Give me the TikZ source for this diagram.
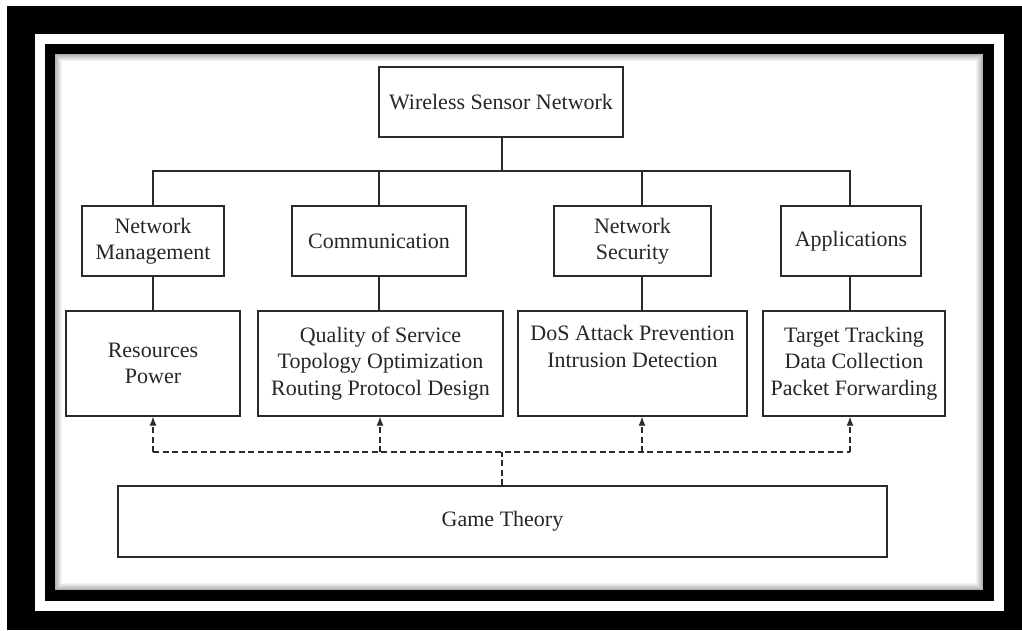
\documentclass[tikz,border=0pt]{standalone}
\usepackage{fontspec}
\setmainfont{Liberation Serif}
\usetikzlibrary{arrows.meta,calc}
\definecolor{ln}{HTML}{2A2A2A}
\definecolor{tx}{HTML}{262626}
\begin{document}
\begin{tikzpicture}[x=1pt,y=-1pt,
  box/.style={draw=ln,line width=1.3pt,fill=white,text=tx,align=center,inner sep=0pt,
    font=\fontsize{22}{26.5}\selectfont},
  conn/.style={draw=ln,line width=1.3pt},
  dconn/.style={draw=ln,line width=1.3pt,dash pattern=on 6pt off 3.5pt},
  arr/.style={dconn,-{Latex[length=9pt,width=7pt]}}]
\useasboundingbox (0,0) rectangle (1022,630);
% frame
\fill[white] (0,0) rectangle (1022,630);
\fill[black] (7,6) rectangle (1022,630);
\fill[white] (35,34) rectangle (1004,611);
\fill[black] (45,44) rectangle (994,601);
\fill[white] (55,54) rectangle (983,590);
\foreach \i in {0,...,6}{
  \pgfmathsetmacro\op{0.30*(7-\i)/7}
  \draw[black,opacity=\op,line width=1pt] (55.5+\i,54.5+\i) rectangle (982.5-\i,589.5-\i);
}
% nodes
\node[box,minimum width=244pt,minimum height=70pt] (wsn) at (501,102) {Wireless Sensor Network};
\node[box,minimum width=142pt,minimum height=70pt] (nm) at (153,241) {Network\\Management};
\node[box,minimum width=174pt,minimum height=70pt] (comm) at (379,241) {Communication};
\node[box,minimum width=157pt,minimum height=70pt] (sec) at (632.5,241) {Network\\Security};
\node[box,minimum width=140pt,minimum height=70pt] (app) at (851,241) {Applications};
\node[box,minimum width=174pt,minimum height=105pt] (res) at (153,363.5) {Resources\\Power};
\node[box,minimum width=245pt,minimum height=105pt] (qos) at (380.5,363.5) {Quality of Service\\Topology Optimization\\Routing Protocol Design};
\node[box,minimum width=229pt,minimum height=105pt] (dos) at (632.5,363.5) {DoS Attack Prevention\\Intrusion Detection\\\strut};
\node[box,minimum width=182pt,minimum height=105pt] (tt) at (854,363.5) {Target Tracking\\Data Collection\\Packet Forwarding};
\node[box,minimum width=769pt,minimum height=71pt] (game) at (502.5,521.5) {Game Theory};
% helper coordinates
\coordinate (xw) at (502,0);
\coordinate (xn) at (153,0);
\coordinate (xc) at (379,0);
\coordinate (xs) at (642,0);
\coordinate (xa) at (850,0);
\coordinate (bus) at (502,171);
\coordinate (dbus) at (502,452);
% tree connectors
\draw[conn] (wsn.south -| xw) -- (bus);
\draw[conn] (nm.north -| xn) |- (bus) -| (app.north -| xa);
\draw[conn] (bus -| xc) -- (comm.north -| xc);
\draw[conn] (bus -| xs) -- (sec.north -| xs);
\draw[conn] (nm.south -| xn) -- (res.north -| xn);
\draw[conn] (comm.south -| xc) -- (qos.north -| xc);
\draw[conn] (sec.south -| xs) -- (dos.north -| xs);
\draw[conn] (app.south -| xa) -- (tt.north -| xa);
% dashed connectors
\draw[dconn] (game.north -| xw) -- (dbus);
\draw[dconn] (dbus -| xn) -- (dbus -| xa);
\draw[arr] (dbus -| xn) -- (res.south -| xn);
\draw[arr] (dbus -| 380,0) -- (qos.south -| 380,0);
\draw[arr] (dbus -| xs) -- (dos.south -| xs);
\draw[arr] (dbus -| xa) -- (tt.south -| xa);
\end{tikzpicture}
\end{document}
